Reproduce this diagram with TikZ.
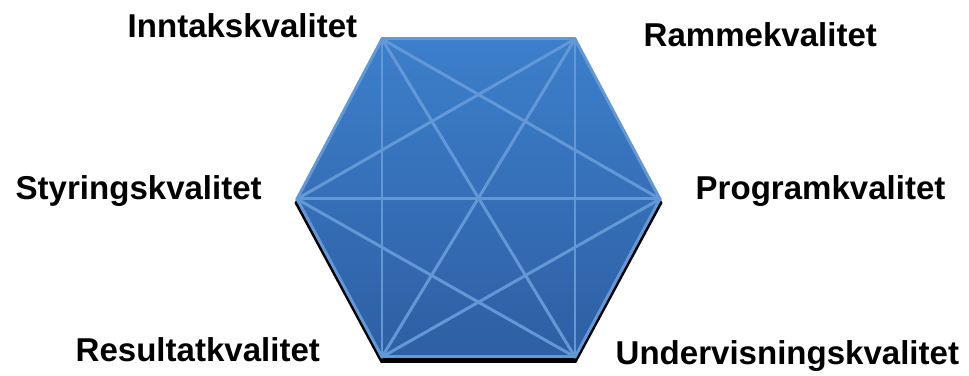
\documentclass[tikz,border=0pt]{standalone}
\usepackage{fontspec}
\setmainfont{Liberation Sans}
\usetikzlibrary{calc}
\definecolor{HexTop}{HTML}{3D7FCB}
\definecolor{HexBottom}{HTML}{2D5FA3}
\definecolor{Spoke}{HTML}{6398D7}
\definecolor{Ink}{HTML}{000000}

\begin{document}
\begin{tikzpicture}[x=1cm,y=1cm,
  lbl/.style={anchor=base west,inner sep=0pt,text=Ink,font=\bfseries\fontsize{9.4}{11}\selectfont},
  spoke/.style={Spoke,line width=0.85pt,line cap=round}]
\useasboundingbox (0,0) rectangle (9.69,3.76);
% corners of the hexagon
\coordinate (inn) at (3.82,3.37);
\coordinate (ram) at (5.75,3.37);
\coordinate (pro) at (6.60,1.77);
\coordinate (und) at (5.75,0.19);
\coordinate (res) at (3.82,0.19);
\coordinate (sty) at (2.97,1.77);
% shadow and body
\fill[black] ($(inn)+(-0.012,-0.01)$) -- ($(ram)+(0.012,-0.01)$) -- ($(pro)+(0.025,-0.04)$) -- ($(und)+(0.012,-0.06)$) -- ($(res)+(-0.012,-0.06)$) -- ($(sty)+(-0.025,-0.04)$) -- cycle;
\shade[top color=HexTop,bottom color=HexBottom] (inn) -- (ram) -- (pro) -- (und) -- (res) -- (sty) -- cycle;
% all connections
\foreach \a/\b in {inn/ram,inn/pro,inn/und,inn/res,inn/sty,ram/pro,ram/und,ram/res,ram/sty,pro/und,pro/res,pro/sty,und/res,und/sty,res/sty}
  \draw[spoke] (\a) -- (\b);
% labels
\node[lbl] (inntak) at (1.27,3.38) {Inntakskvalitet};
\node[lbl] (ramme) at (6.43,3.29) {Rammekvalitet};
\node[lbl] (styring) at (0.15,1.76) {Styringskvalitet};
\node[lbl] (program) at (6.95,1.76) {Programkvalitet};
\node[lbl] (resultat) at (0.75,0.14) {Resultatkvalitet};
\node[lbl] (underv) at (6.15,0.11) {Undervisningskvalitet};
\end{tikzpicture}
\end{document}
